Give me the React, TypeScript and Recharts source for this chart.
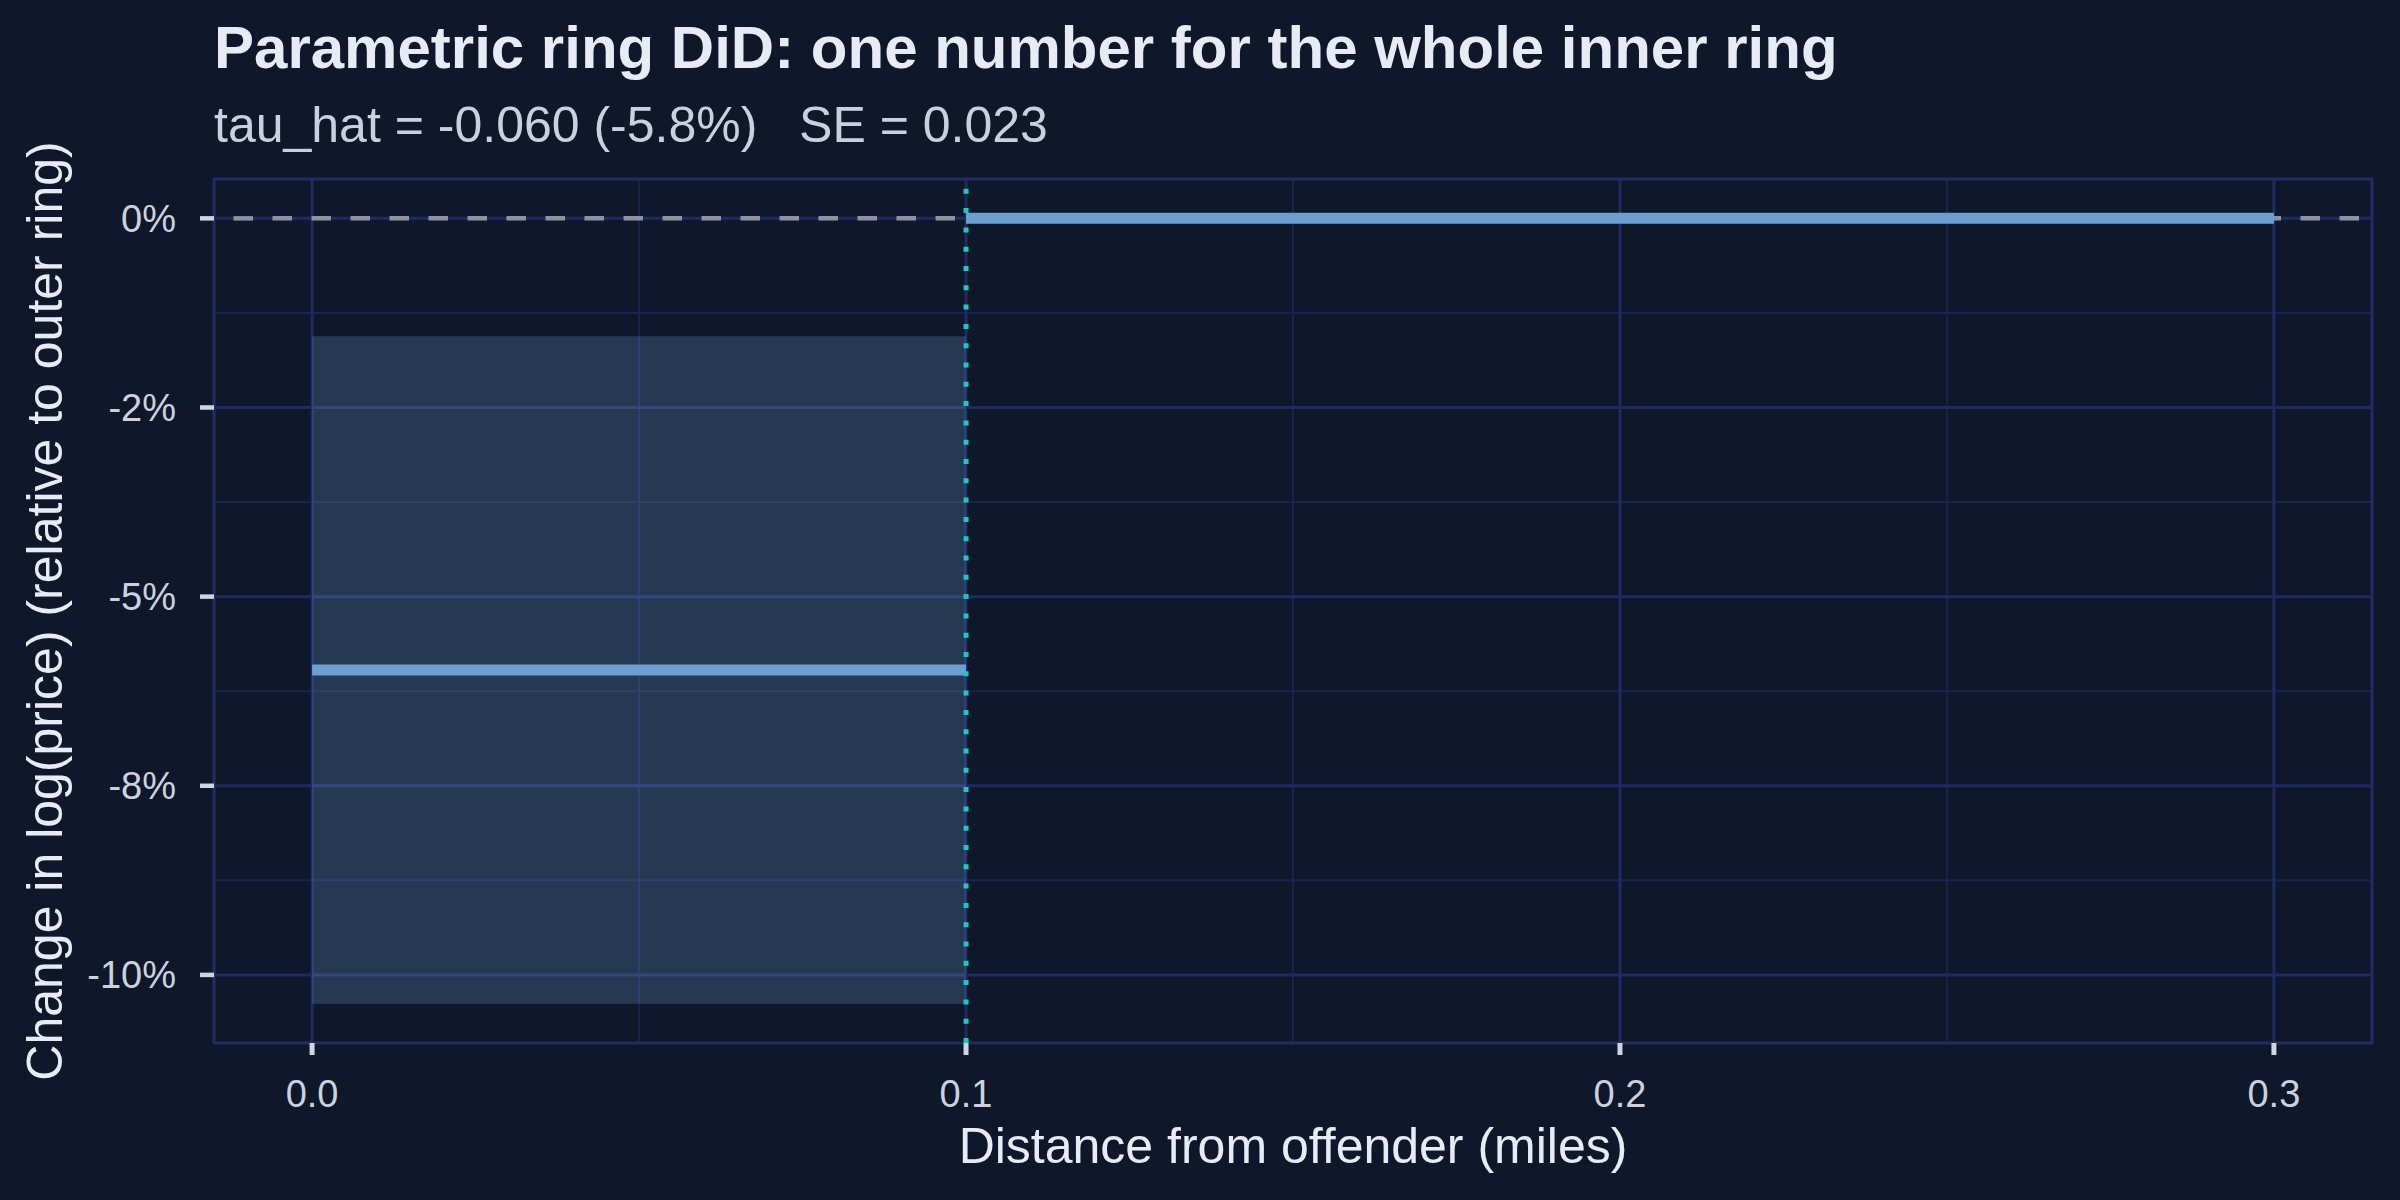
import {
  ComposedChart,
  XAxis,
  YAxis,
  CartesianGrid,
  Line,
  Area,
  ReferenceLine,
  ReferenceArea,
} from "recharts"

// ring edges (miles) and the estimated effect for each ring
const ringStart = [0, 0.1]
const ringEnd = [0.1, 0.3]
const ringEstimate = [-0.0597, 0]

// 95% band, inner ring only
const bandLow = [-0.1038]
const bandHigh = [-0.0156]

const xMajor = [0, 0.1, 0.2, 0.3]
const xMinor = [0.05, 0.15, 0.25]
const yMajor = [0, -0.025, -0.05, -0.075, -0.1]
const yMinor = [-0.0125, -0.0375, -0.0625, -0.0875]
const yTickLabels = ["0%", "-2%", "-5%", "-8%", "-10%"]

const xDomain = [-0.015, 0.315]
const yDomain = [-0.109, 0.0052]

const BG = "#0f172a"
const FONT = "'Liberation Sans', Arial, sans-serif"

const segments = ringStart.map((start, i) => [
  { x: start, y: ringEstimate[i] },
  { x: ringEnd[i], y: ringEstimate[i] },
])

const band = bandLow.map((low, i) => [
  { x: ringStart[i], range: [low, bandHigh[i]] },
  { x: ringEnd[i], range: [low, bandHigh[i]] },
])

export default function App() {
  const tickStyle = { fill: "#cbd2de", fontSize: 38, fontFamily: FONT }

  return (
    <div style={{ position: "fixed", left: 0, top: 0, width: 2400, height: 1200, background: BG }}>
      <ComposedChart
        width={2400}
        height={1200}
        margin={{ top: 179, right: 28, bottom: 0, left: 0 }}
      >
        <XAxis xAxisId="minor" dataKey="x" type="number" domain={xDomain} ticks={xMinor} hide allowDataOverflow />
        <YAxis yAxisId="minor" type="number" domain={yDomain} ticks={yMinor} hide allowDataOverflow />
        <CartesianGrid xAxisId="minor" yAxisId="minor" stroke="#1a2350" strokeWidth={2} fill={BG} />

        <XAxis
          dataKey="x"
          type="number"
          domain={xDomain}
          ticks={xMajor}
          allowDataOverflow
          height={157}
          axisLine={false}
          tickSize={12}
          tickMargin={25}
          tickLine={{ stroke: "#cfd5e1", strokeWidth: 5 }}
          tick={tickStyle}
          tickFormatter={(v: number) => v.toFixed(1)}
        />
        <YAxis
          type="number"
          domain={yDomain}
          ticks={yMajor}
          allowDataOverflow
          width={214}
          axisLine={false}
          tickSize={14}
          tickMargin={24}
          tickLine={{ stroke: "#cfd5e1", strokeWidth: 4.5 }}
          tick={tickStyle}
          tickFormatter={(v: number) => yTickLabels[yMajor.indexOf(v)] ?? ""}
        />
        <CartesianGrid stroke="#1f2b63" strokeWidth={3} fill="none" />

        {band.map((d, i) => (
          <Area
            key={`band-${i}`}
            data={d}
            dataKey="range"
            type="linear"
            stroke="none"
            fill="#6a9fd0"
            fillOpacity={0.25}
            isAnimationActive={false}
          />
        ))}

        <ReferenceLine
          y={0}
          stroke="#8d91a0"
          strokeWidth={4.5}
          strokeDasharray="19.5 19.5"
          strokeDashoffset={19.5}
        />

        {segments.map((d, i) => (
          <Line
            key={`ring-${i}`}
            data={d}
            dataKey="y"
            type="linear"
            stroke="#6b9fd1"
            strokeWidth={11}
            dot={false}
            activeDot={false}
            isAnimationActive={false}
          />
        ))}

        <ReferenceLine x={ringEnd[0]} stroke="#1ec8c0" strokeWidth={5} strokeDasharray="5 14.3" />

        <ReferenceArea
          x1={xDomain[0]}
          x2={xDomain[1]}
          y1={yDomain[0]}
          y2={yDomain[1]}
          fill="none"
          stroke="#222c60"
          strokeWidth={2.5}
        />
      </ComposedChart>

      <svg
        width={2400}
        height={1200}
        style={{ position: "absolute", left: 0, top: 0, pointerEvents: "none" }}
        fontFamily={FONT}
      >
        <text x={214} y={68} fontSize={60} fontWeight="bold" fill="#e6ebf4">
          Parametric ring DiD: one number for the whole inner ring
        </text>
        <text x={214} y={142} fontSize={50} fill="#c9d1e0" style={{ whiteSpace: "pre" }}>
          {"tau_hat = -0.060 (-5.8%)   SE = 0.023"}
        </text>
        <text x={1293} y={1163} fontSize={50} fill="#e6ebf4" textAnchor="middle">
          Distance from offender (miles)
        </text>
        <text
          x={62}
          y={611}
          fontSize={50}
          fill="#e6ebf4"
          textAnchor="middle"
          transform="rotate(-90, 62, 611)"
        >
          Change in log(price) (relative to outer ring)
        </text>
      </svg>
    </div>
  )
}
